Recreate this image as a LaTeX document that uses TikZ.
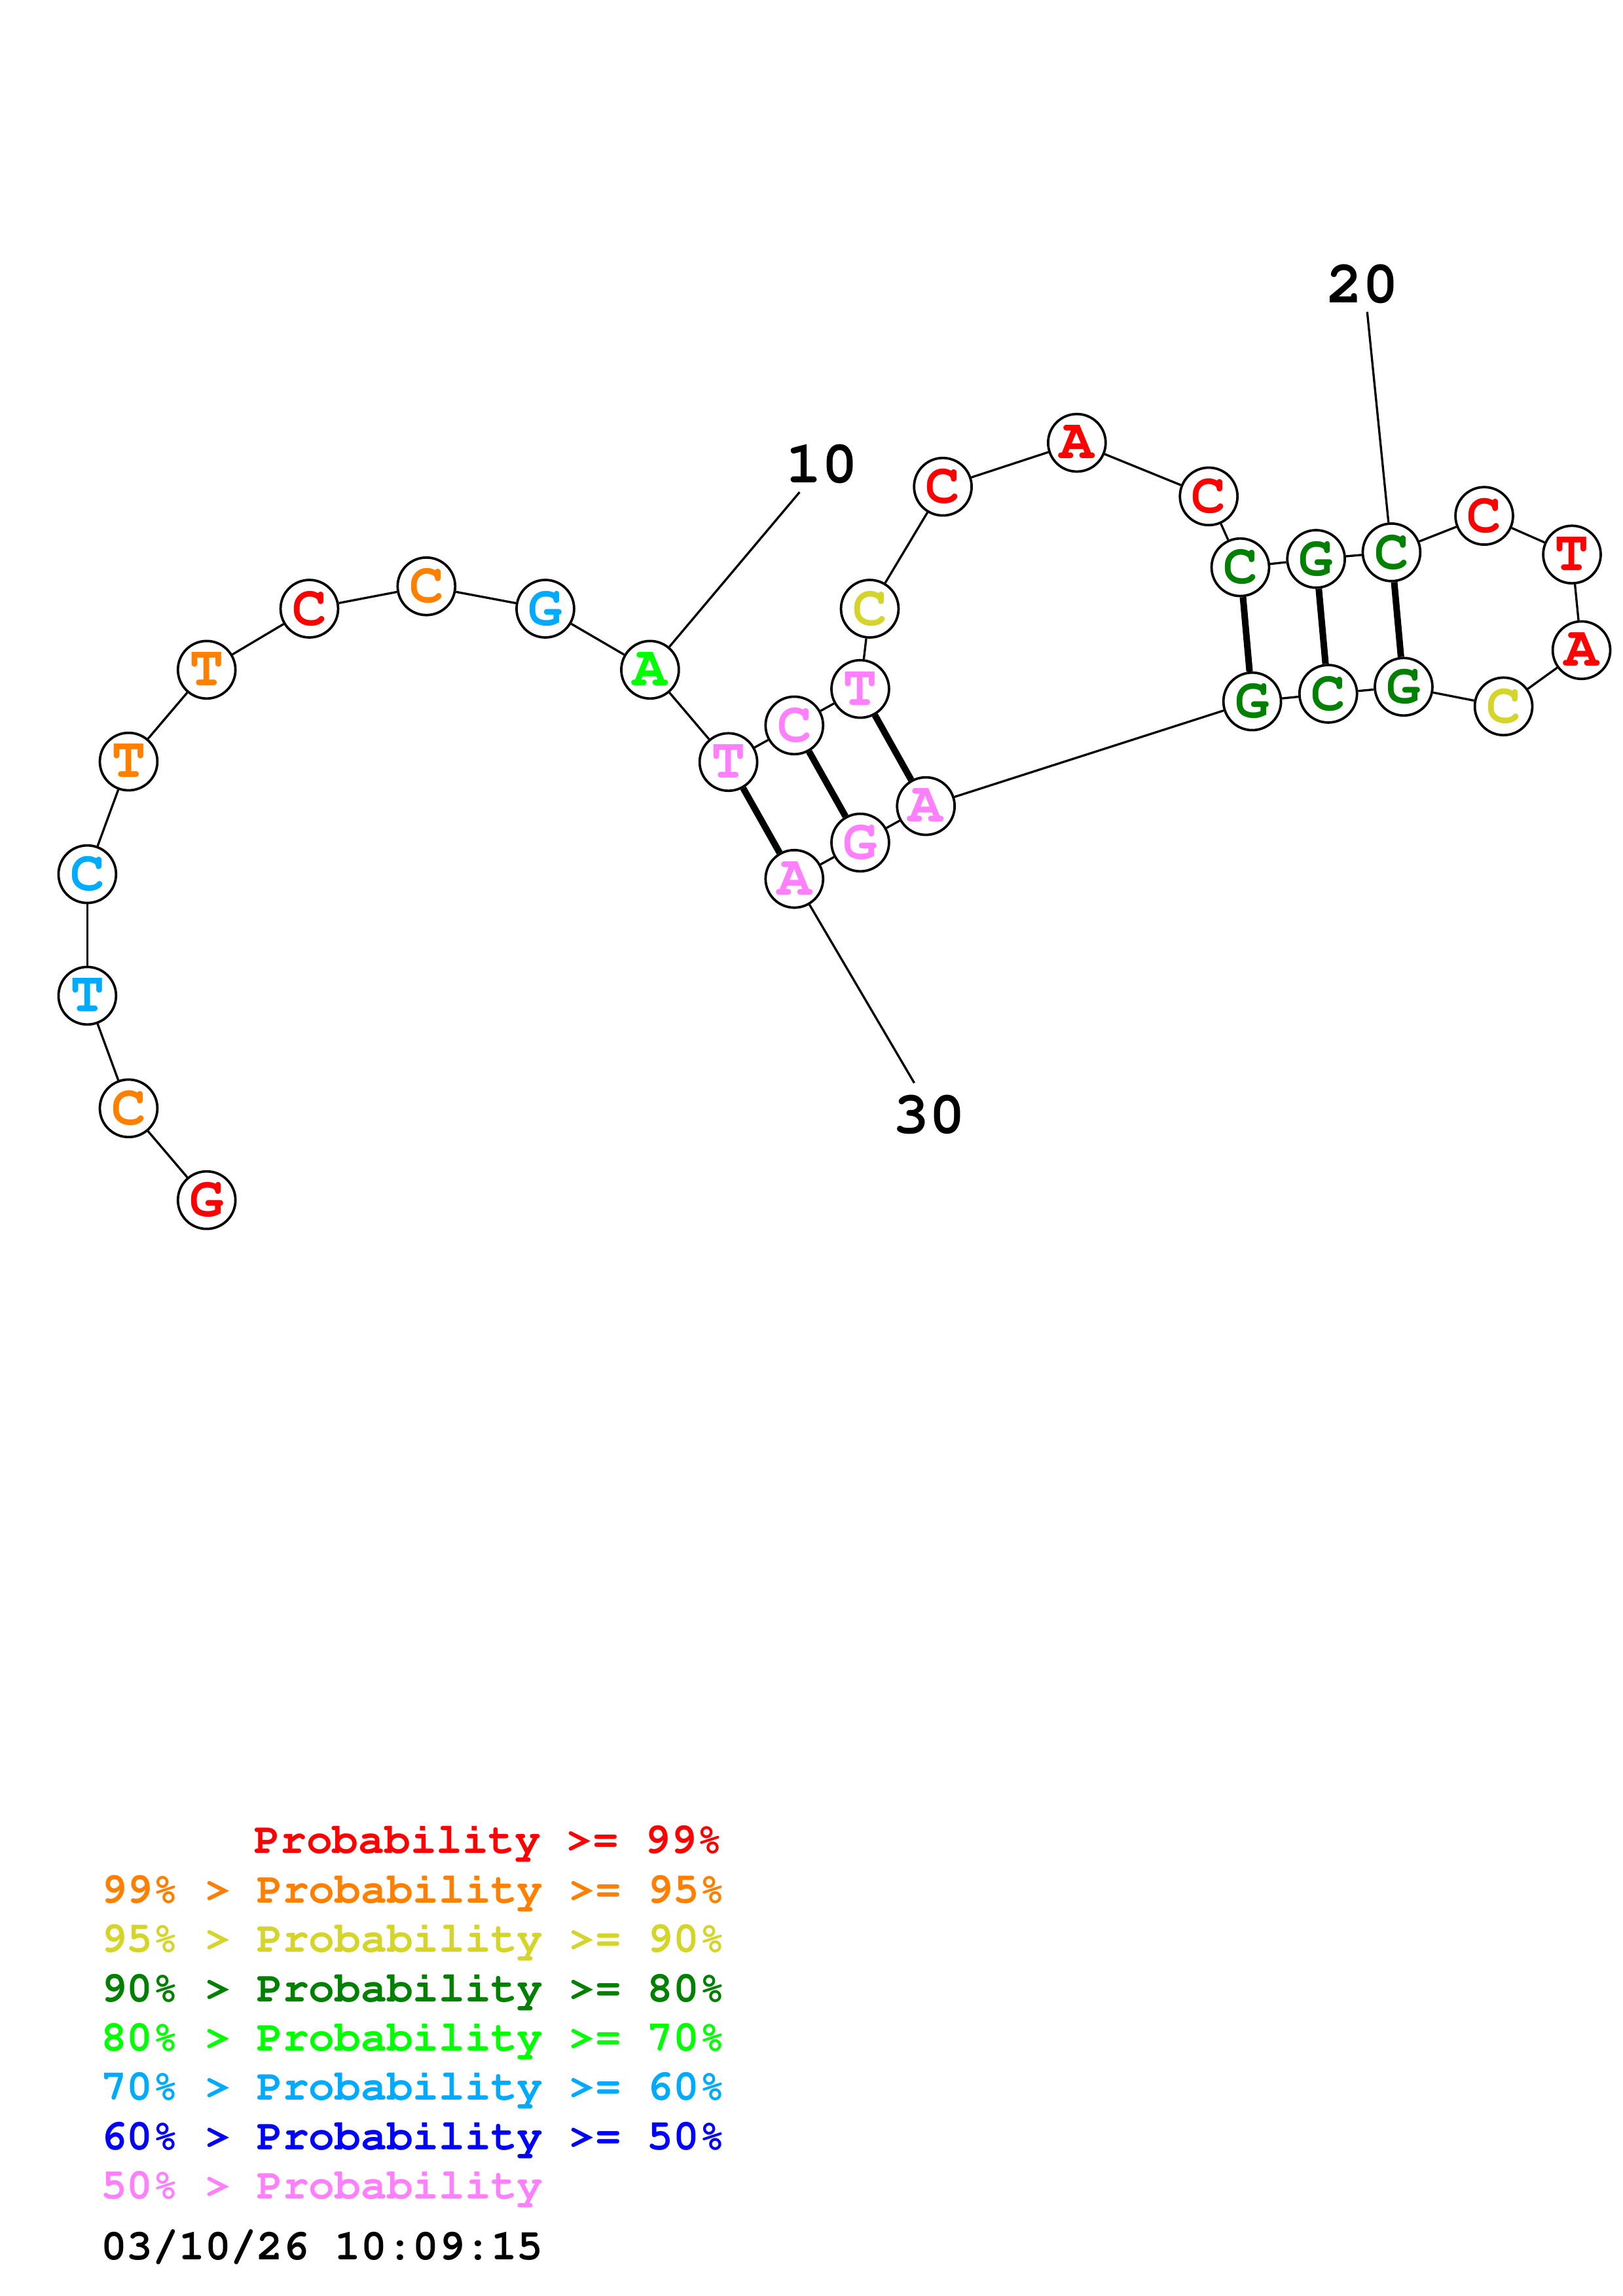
\documentclass[tikz,border=0pt]{standalone}
\usepackage{fontspec}
\setmonofont{Liberation Mono}
\newcommand{\courb}{\fontencoding{T1}\fontfamily{pcr}\fontseries{b}\fontshape{n}\selectfont}
\definecolor{cR}{RGB}{255,0,0}
\definecolor{cO}{RGB}{255,128,0}
\definecolor{cY}{RGB}{212,212,42}
\definecolor{cDG}{RGB}{0,128,0}
\definecolor{cG}{RGB}{0,255,0}
\definecolor{cLB}{RGB}{0,170,255}
\definecolor{cB}{RGB}{0,0,255}
\definecolor{cP}{RGB}{255,128,255}
\begin{document}
\begin{tikzpicture}[x=0.5370pt,y=-0.5370pt,
  nt/.style={circle,draw=black,line width=0.9pt,fill=white,minimum size=21.1pt,inner sep=0pt,font=\fontsize{21}{21}\courb},
  bb/.style={line width=0.8pt},
  bp/.style={line width=2.4pt},
  numlab/.style={font=\fontsize{22}{22}\courb,inner sep=0pt},
  leg/.style={font=\fontsize{15.9}{15.9}\courb,inner sep=0pt,anchor=base west}]
\useasboundingbox (0,0) rectangle (1108,1568);
% nucleotides
\node[nt,text=cR]  (n1)  at (141.1,819.6) {G};
\node[nt,text=cO]  (n2)  at (87.8,756.9)  {C};
\node[nt,text=cLB] (n3)  at (59.6,680.0)  {T};
\node[nt,text=cLB] (n4)  at (59.6,597.0)  {C};
\node[nt,text=cO]  (n5)  at (87.8,520.1)  {T};
\node[nt,text=cO]  (n6)  at (141.1,457.4) {T};
\node[nt,text=cR]  (n7)  at (211.2,415.7) {C};
\node[nt,text=cO]  (n8)  at (291.1,400.4) {C};
\node[nt,text=cLB] (n9)  at (372.3,415.7) {G};
\node[nt,text=cG]  (n10) at (443.8,457.4) {A};
\node[nt,text=cP]  (n11) at (497.3,520.4) {T};
\node[nt,text=cP]  (n12) at (542.3,495.4) {C};
\node[nt,text=cP]  (n13) at (587.3,470.5) {T};
\node[nt,text=cY]  (n14) at (593.8,415.7) {C};
\node[nt,text=cR]  (n15) at (643.7,332.4) {C};
\node[nt,text=cR]  (n16) at (735.2,302.4) {A};
\node[nt,text=cR]  (n17) at (825.2,339.0) {C};
\node[nt,text=cDG] (n18) at (846.8,387.4) {C};
\node[nt,text=cDG] (n19) at (898.5,381.7) {G};
\node[nt,text=cDG] (n20) at (950.0,377.2) {C};
\node[nt,text=cR]  (n21) at (1013.3,352.3) {C};
\node[nt,text=cR]  (n22) at (1073.2,378.7) {T};
\node[nt,text=cR]  (n23) at (1079.7,444.0) {A};
\node[nt,text=cY]  (n24) at (1026.5,482.4) {C};
\node[nt,text=cDG] (n25) at (958.3,469.0) {G};
\node[nt,text=cDG] (n26) at (906.8,473.8) {C};
\node[nt,text=cDG] (n27) at (854.9,479.0) {G};
\node[nt,text=cP]  (n28) at (632.1,550.5) {A};
\node[nt,text=cP]  (n29) at (587.3,575.4) {G};
\node[nt,text=cP]  (n30) at (542.3,600.2) {A};
% backbone
\foreach \a/\b in {1/2,2/3,3/4,4/5,5/6,6/7,7/8,8/9,9/10,10/11,11/12,12/13,13/14,14/15,15/16,16/17,17/18,18/19,19/20,20/21,21/22,22/23,23/24,24/25,25/26,26/27,27/28,28/29,29/30}
  \draw[bb] (n\a) -- (n\b);
% base pairs
\foreach \a/\b in {11/30,12/29,13/28,18/27,19/26,20/25}
  \draw[bp] (n\a) -- (n\b);
% number labels
\coordinate (t10) at (545.9,336.1);
\coordinate (t20) at (933.4,213.0);
\coordinate (t30) at (624.2,739.6);
\draw[bb] (n10) -- (t10);
\draw[bb] (n20) -- (t20);
\draw[bb] (n30) -- (t30);
\node[numlab] (l10) at (561.0,317.0) {10};
\node[numlab] (l20) at (930.4,194.0) {20};
\node[numlab] (l30) at (634.5,761.5) {30};
% legend
\node[leg,text=cR]  (g1) at (173.3,1265.8) {Probability >= 99\%};
\node[leg,text=cO]  (g2) at (68.5,1299.5) {99\% > Probability >= 95\%};
\node[leg,text=cY]  (g3) at (68.5,1333.2) {95\% > Probability >= 90\%};
\node[leg,text=cDG] (g4) at (68.5,1366.9) {90\% > Probability >= 80\%};
\node[leg,text=cG]  (g5) at (68.5,1400.6) {80\% > Probability >= 70\%};
\node[leg,text=cLB] (g6) at (68.5,1434.3) {70\% > Probability >= 60\%};
\node[leg,text=cB]  (g7) at (68.5,1468.0) {60\% > Probability >= 50\%};
\node[leg,text=cP]  (g8) at (68.5,1501.7) {50\% > Probability};
\node[leg,text=black] (date) at (68.5,1543.1) {03/10/26 10:09:15};
\end{tikzpicture}
\end{document}
